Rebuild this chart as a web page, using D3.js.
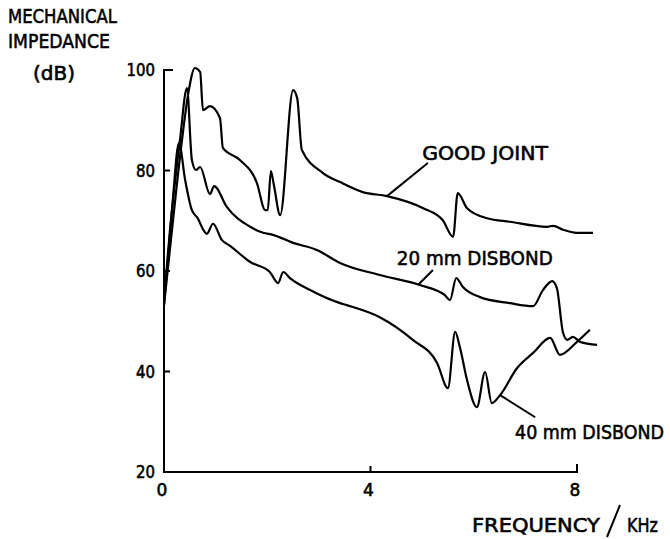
<!DOCTYPE html>
<html><head><meta charset="utf-8">
<script src="https://cdn.jsdelivr.net/npm/d3@7"></script>
<style>body{margin:0;background:#fff}svg text{font-family:"DejaVu Sans",sans-serif;fill:#000;stroke:#000;stroke-width:0.6px}</style>
</head><body><svg id="c" width="670" height="539"></svg>
<script>
// Data: frequency (kHz), mechanical impedance (dB)
const goodJointF = [0,0.155,0.349,0.465,0.60,0.70,0.755,0.89,1.085,1.14,1.47,1.80,1.96,2.01,2.07,2.13,2.25,2.50,2.58,2.67,3.08,3.41,3.85,4.32,5.02,5.40,5.60,5.69,5.87,6.26,6.70,7.42,7.54,7.73,8.0,8.31];
const goodJointDB = [53.2,68.2,86.1,95.0,100.4,99.6,92.0,92.8,90.4,84.5,82.1,77.5,72.1,72.1,79.9,77.0,71.1,96.0,94.4,84.1,79.5,77.7,75.7,74.9,72.5,70.1,66.8,75.5,72.5,70.5,69.8,68.8,69.0,68.2,67.6,67.6];
const disbond20F = [0,0.116,0.31,0.445,0.54,0.62,0.70,0.89,0.97,1.22,1.67,1.92,2.11,2.50,2.96,3.41,4.18,4.96,5.44,5.54,5.66,5.79,6.12,6.70,7.15,7.34,7.52,7.61,7.73,7.81,7.92,8.06,8.39];
const disbond20DB = [54.2,68.2,86.1,96.4,82.1,80.1,80.7,75.3,76.9,72.7,68.8,67.6,67.2,65.6,64.2,61.6,59.2,57.2,55.2,54.2,58.6,56.8,54.8,53.6,53.0,56.2,58.0,56.6,47.7,46.3,46.9,45.9,45.3];
const disbond40F = [0,0.155,0.29,0.41,0.54,0.64,0.83,0.95,1.12,1.28,1.67,2.05,2.21,2.31,2.44,2.83,3.41,3.54,4.18,4.82,5.29,5.50,5.64,5.73,5.87,6.06,6.22,6.35,6.51,6.84,7.15,7.48,7.67,8.0,8.25];
const disbond40DB = [53.2,72.1,85.5,78.1,72.1,70.7,67.4,69.4,66.2,65.0,61.8,59.8,57.6,59.8,58.6,56.2,53.6,53.2,50.8,46.3,41.7,36.7,47.9,44.9,38.3,32.9,39.9,33.7,35.3,40.7,43.7,46.7,43.3,45.9,48.3];
const xTicks = [0,4,8];
const yTicks = [20,40,60,80,100];
const seriesNames = ["GOOD JOINT","20 mm DISBOND","40 mm DISBOND"];

const svg = d3.select("#c");
const x = d3.scaleLinear().domain([0,8]).range([164,577]);
const y = d3.scaleLinear().domain([20,100]).range([472,70]);

// text squeezed horizontally to a target width via transform
function squeezed(parent, str, px, py, size, w){
  const t = parent.append("text").attr("font-size",size).text(str);
  const len = t.node().getComputedTextLength();
  t.attr("transform",`translate(${px},${py}) scale(${w/len},1)`);
  return t;
}

// axes
const ax = svg.append("g").attr("stroke","#000").attr("stroke-width",2).attr("fill","none");
ax.append("path").attr("d",`M${x(0)+9},${y(100)}H${x(0)}V${y(20)}H${x(8)}V${y(20)-8}`);
yTicks.filter(v=>v>20&&v<100).forEach(v=>ax.append("line").attr("x1",x(0)).attr("x2",x(0)+6).attr("y1",y(v)).attr("y2",y(v)));
ax.append("line").attr("x1",x(4)).attr("x2",x(4)).attr("y1",y(20)).attr("y2",y(20)-6);

const tl = svg.append("g");
yTicks.forEach(v=>{const w=String(v).length*9.5; squeezed(tl,String(v),x(0)-9-w,y(v)+6,17,w);});
xTicks.forEach(v=>tl.append("text").attr("font-size",17).attr("x",x(v)-2).attr("y",y(20)+24).attr("text-anchor","middle").text(v));

// curves
const line = d3.line().x(d=>x(d[0])).y(d=>y(d[1])).curve(d3.curveMonotoneX);
[[goodJointF,goodJointDB],[disbond20F,disbond20DB],[disbond40F,disbond40DB]].forEach(([f,v])=>{
  svg.append("path").attr("d",line(f.map((d,i)=>[d,v[i]]))).attr("fill","none").attr("stroke","#000").attr("stroke-width",2.2).attr("stroke-linejoin","round");
});

// labels with leaders
const labels = [
  {t:seriesNames[0], f:5.0, db:82.1, w:126, l:[[4.32,74.9],[5.11,81.5]]},
  {t:seriesNames[1], f:4.51, db:61.1, w:156, l:[[4.92,57.2],[5.21,60.2]]},
  {t:seriesNames[2], f:6.80, db:26.6, w:149, l:[[6.51,35.3],[7.19,30.9]]}
];
labels.forEach(L=>{
  squeezed(svg, L.t, x(L.f), y(L.db), 20, L.w);
  svg.append("line").attr("x1",x(L.l[0][0])).attr("y1",y(L.l[0][1])).attr("x2",x(L.l[1][0])).attr("y2",y(L.l[1][1]))
    .attr("stroke","#000").attr("stroke-width",2);
});

// axis titles
squeezed(svg,"MECHANICAL",8,23,20,109);
squeezed(svg,"IMPEDANCE",8,48,20,102);
squeezed(svg,"(dB)",33,80,20,42);
squeezed(svg,"FREQUENCY",472,532,20,128);
svg.append("line").attr("x1",607).attr("y1",537).attr("x2",620).attr("y2",505).attr("stroke","#000").attr("stroke-width",2);
squeezed(svg,"KHz",627,532,20,31);
</script></body></html>
